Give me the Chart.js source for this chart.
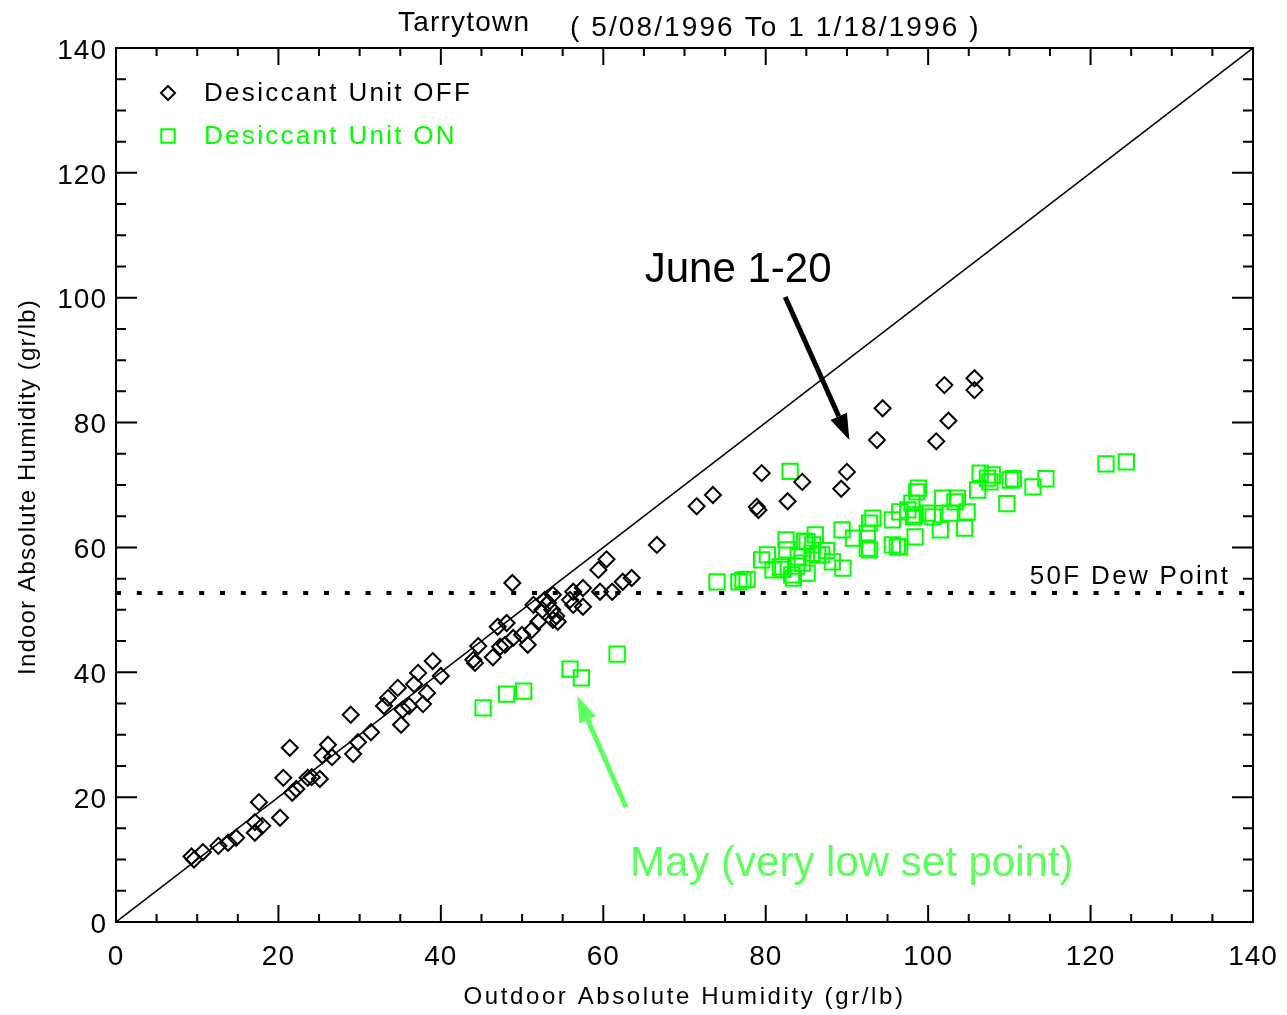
<!DOCTYPE html>
<html>
<head>
<meta charset="utf-8">
<script src="https://cdn.jsdelivr.net/npm/chart.js@4/dist/chart.umd.min.js"></script>
<style>
  html, body { margin: 0; padding: 0; background: #fff; }
  #wrap { width: 1287px; height: 1015px; }
</style>
</head>
<body>
<div id="wrap"><canvas id="humidityChart"></canvas></div>
<script>
// Outdoor vs indoor absolute humidity (gr/lb)
const offX = [9.3, 9.6, 10.7, 12.6, 13.8, 14.8, 17.1, 17.1, 17.6, 18.0, 20.2, 20.6, 21.4, 21.7, 22.2,
    23.6, 24.1, 25.1, 25.4, 26.1, 26.6, 28.9, 29.2, 29.8, 31.4, 33.0, 33.5, 34.7, 35.1, 35.3,
    36.1, 36.7, 37.2, 37.8, 38.3, 39.0, 40.0, 44.2, 44.0, 44.6, 46.4, 47.3, 47.9, 47.0, 48.1,
    48.8, 48.9, 50.0, 50.7, 51.2, 52.0, 51.4, 52.8, 53.2, 53.7, 53.8, 54.4, 53.8, 56.3, 56.3,
    57.5, 57.5, 55.9, 59.4, 60.4, 59.6, 61.1, 62.4, 63.5, 52.5, 54.2, 66.6, 71.5, 73.5, 79.5,
    78.9, 79.1, 82.7, 84.5, 90.0, 89.3, 93.7, 94.4, 101.0, 102.5, 102.0, 105.7, 105.7];
const offY = [10.5, 10.0, 11.2, 12.2, 12.7, 13.5, 16.0, 14.3, 19.2, 15.4, 16.7, 23.1, 27.9, 20.7, 21.3,
    23.1, 23.2, 22.9, 26.7, 28.4, 26.4, 33.2, 26.9, 28.8, 30.4, 34.6, 35.9, 37.5, 31.6, 34.0,
    34.6, 38.1, 39.9, 34.9, 36.7, 41.8, 39.4, 41.5, 42.0, 44.2, 42.4, 44.1, 44.4, 47.3, 47.9,
    54.3, 45.5, 46.0, 44.4, 46.8, 48.1, 50.8, 51.6, 51.1, 50.0, 48.4, 48.1, 52.4, 52.9, 50.8,
    53.5, 50.5, 51.6, 56.4, 58.1, 52.9, 52.9, 54.5, 55.1, 50.0, 49.0, 60.4, 66.6, 68.4, 71.9,
    66.5, 66.0, 67.4, 70.5, 72.1, 69.4, 77.2, 82.3, 77.0, 80.3, 86.0, 87.1, 85.2];

const onX = [45.2, 48.1, 50.2, 55.9, 57.3, 61.7,
    74.0, 76.7, 77.2, 77.7, 83.0, 80.2, 79.5, 80.9, 81.8, 82.5, 82.6, 82.1, 83.4, 83.2,
    84.0, 85.1, 86.1, 85.1, 85.7, 86.4, 86.9, 88.2, 89.5, 85.8, 89.4, 90.8, 92.5, 92.8,
    92.5, 92.8, 93.2, 95.6, 96.2, 96.5, 95.6, 96.5, 97.5, 98.2, 98.4, 98.6, 98.8, 98.0,
    98.4, 99.9, 100.6, 101.5, 101.8, 102.7, 103.6, 103.3, 104.5, 104.8, 106.4, 106.1, 107.3,
    107.9, 107.6, 110.1, 110.5, 109.7, 112.9, 114.5, 121.9, 124.4, 84.5, 83.8, 87.5, 84.8];
const onY = [34.3, 36.5, 37.0, 40.5, 39.1, 42.9,
    54.5, 54.5, 54.8, 54.9, 72.2, 58.8, 58.0, 56.4, 56.9, 61.2, 59.6, 56.5, 55.1, 55.6,
    58.5, 60.9, 62.0, 55.9, 59.1, 58.8, 58.8, 57.7, 56.7, 60.4, 62.8, 61.5, 59.9, 59.6,
    62.3, 63.9, 64.7, 60.4, 60.1, 60.1, 64.4, 65.7, 66.0, 64.9, 61.7, 68.9, 69.5, 67.1,
    65.2, 65.5, 64.9, 62.8, 67.9, 65.5, 67.9, 67.3, 63.1, 65.7, 71.9, 69.2, 71.1,
    71.6, 70.5, 70.8, 71.0, 67.0, 69.7, 71.0, 73.4, 73.7, 57.5, 57.0, 59.5, 61.0];

const dewPoint = 52.7;
const axisTicks = [0, 20, 40, 60, 80, 100, 120, 140];

const GREEN = '#00ff00';
const LIGHT_GREEN = '#5cff5c';
const FONT = '"Liberation Sans", Arial, sans-serif';

function toPoints(xs, ys) {
    return xs.map((x, i) => ({ x: x, y: ys[i] }));
}

// frame, inside ticks, legend, titles and notes
const decorations = {
    id: 'decorations',
    beforeDraw(chart) {
        chart.ctx.letterSpacing = '1px';
    },
    afterDraw(chart) {
        const ctx = chart.ctx;
        const a = chart.chartArea;
        const sx = chart.scales.x;
        const sy = chart.scales.y;
        ctx.save();
        ctx.strokeStyle = '#000';
        ctx.lineWidth = 2;
        ctx.strokeRect(a.left, a.top, a.right - a.left, a.bottom - a.top);

        ctx.beginPath();
        sx.ticks.forEach(t => {
            const p = sx.getPixelForValue(t.value);
            const len = t.value % 20 === 0 ? 17 : 8;
            ctx.moveTo(p, a.bottom); ctx.lineTo(p, a.bottom - len);
            ctx.moveTo(p, a.top); ctx.lineTo(p, a.top + len);
        });
        sy.ticks.forEach(t => {
            const p = sy.getPixelForValue(t.value);
            const len = t.value % 20 === 0 ? 21 : 10;
            ctx.moveTo(a.left, p); ctx.lineTo(a.left + len, p);
            ctx.moveTo(a.right, p); ctx.lineTo(a.right - len, p);
        });
        ctx.stroke();

        // legend
        ctx.lineWidth = 2;
        ctx.fillStyle = 'rgba(0,0,0,0)';
        Chart.helpers.drawPoint(ctx, { pointStyle: 'rectRot', radius: 7, rotation: 0, borderWidth: 2 }, 168, 93);
        ctx.strokeStyle = GREEN;
        Chart.helpers.drawPoint(ctx, { pointStyle: 'rect', radius: 9.5, rotation: 0, borderWidth: 2 }, 168, 136);
        ctx.textBaseline = 'middle';
        ctx.textAlign = 'left';
        ctx.font = '26px ' + FONT;
        ctx.letterSpacing = '2.3px';
        ctx.fillStyle = '#000';
        ctx.fillText('Desiccant Unit OFF', 204, 94);
        ctx.fillStyle = GREEN;
        ctx.fillText('Desiccant Unit ON', 204, 137);

        // dew point note
        ctx.fillStyle = '#000';
        ctx.textAlign = 'right';
        ctx.fillText('50F Dew Point', sx.getPixelForValue(137.2), sy.getPixelForValue(55.3));

        // title
        ctx.textAlign = 'left';
        ctx.font = '28px ' + FONT;
        ctx.letterSpacing = '1.2px';
        ctx.fillText('Tarrytown', 398, 23);
        ctx.letterSpacing = '2.1px';
        ctx.fillText('( 5/08/1996 To 1 1/18/1996 )', 570, 28);

        // axis titles
        ctx.font = '24px ' + FONT;
        ctx.textAlign = 'center';
        ctx.letterSpacing = '2.6px';
        ctx.fillText('Outdoor Absolute Humidity (gr/lb)', (a.left + a.right) / 2, 997);
        ctx.save();
        ctx.translate(28, 487);
        ctx.rotate(-Math.PI / 2);
        ctx.letterSpacing = '1.2px';
        ctx.fillText('Indoor Absolute Humidity (gr/lb)', 0, 0);
        ctx.restore();

        // notes with arrows
        ctx.letterSpacing = '0px';
        ctx.font = '42px ' + FONT;
        ctx.textAlign = 'left';
        ctx.fillStyle = '#000';
        ctx.fillText('June 1-20', sx.getPixelForValue(65.1), sy.getPixelForValue(104.3));
        ctx.fillStyle = LIGHT_GREEN;
        ctx.fillText('May (very low set point)', sx.getPixelForValue(63.3), sy.getPixelForValue(9.3));

        drawArrow(ctx, sx.getPixelForValue(82.4), sy.getPixelForValue(100.1),
            sx.getPixelForValue(90.3), sy.getPixelForValue(77.2), '#000');
        drawArrow(ctx, sx.getPixelForValue(62.8), sy.getPixelForValue(18.4),
            sx.getPixelForValue(56.8), sy.getPixelForValue(36.2), LIGHT_GREEN);
        ctx.restore();
    }
};

function drawArrow(ctx, x1, y1, x2, y2, color) {
    const ang = Math.atan2(y2 - y1, x2 - x1);
    const head = 26, half = 9;
    const bx = x2 - head * Math.cos(ang), by = y2 - head * Math.sin(ang);
    ctx.strokeStyle = color;
    ctx.fillStyle = color;
    ctx.lineWidth = 5;
    ctx.beginPath();
    ctx.moveTo(x1, y1);
    ctx.lineTo(bx, by);
    ctx.stroke();
    ctx.beginPath();
    ctx.moveTo(x2, y2);
    ctx.lineTo(bx + half * Math.sin(ang), by - half * Math.cos(ang));
    ctx.lineTo(bx - half * Math.sin(ang), by + half * Math.cos(ang));
    ctx.closePath();
    ctx.fill();
}

const tickFont = { family: FONT, size: 28 };

new Chart(document.getElementById('humidityChart'), {
    type: 'scatter',
    data: {
        datasets: [
            {
                type: 'line',
                data: [{ x: 0, y: 0 }, { x: 140, y: 140 }],
                borderColor: '#000',
                borderWidth: 1.5,
                pointRadius: 0,
            },
            {
                type: 'line',
                data: [{ x: 0, y: dewPoint }, { x: 140, y: dewPoint }],
                borderColor: '#000',
                borderWidth: 4,
                borderDash: [5, 15.8],
                pointRadius: 0,
            },
            {
                label: 'Desiccant Unit OFF',
                data: toPoints(offX, offY),
                pointStyle: 'rectRot',
                pointRadius: 8,
                pointBorderWidth: 2,
                borderColor: '#000',
                backgroundColor: 'transparent',
            },
            {
                label: 'Desiccant Unit ON',
                data: toPoints(onX, onY),
                pointStyle: 'rect',
                pointRadius: 10.8,
                pointBorderWidth: 2,
                borderColor: GREEN,
                backgroundColor: 'transparent',
            },
        ],
    },
    options: {
        responsive: true,
        maintainAspectRatio: false,
        animation: false,
        layout: { padding: { top: 48, right: 34, left: 0, bottom: 0 } },
        plugins: {
            legend: { display: false },
            tooltip: { enabled: false },
        },
        scales: {
            x: {
                type: 'linear',
                min: 0,
                max: 140,
                grid: { display: false, drawTicks: false },
                border: { display: false },
                afterFit: scale => {
                    scale.height = 93;
                    scale.paddingLeft = 0;
                    scale.paddingRight = 0;
                },
                ticks: {
                    stepSize: 5,
                    autoSkip: false,
                    maxRotation: 0,
                    padding: 18,
                    color: '#000',
                    font: tickFont,
                    callback: v => axisTicks.includes(v) ? String(v) : '',
                },
            },
            y: {
                type: 'linear',
                min: 0,
                max: 140,
                grid: { display: false, drawTicks: false },
                border: { display: false },
                afterFit: scale => {
                    scale.width = 116;
                    scale.paddingTop = 0;
                    scale.paddingBottom = 0;
                },
                ticks: {
                    stepSize: 5,
                    autoSkip: false,
                    padding: 9,
                    labelOffset: 3,
                    color: '#000',
                    font: tickFont,
                    callback: v => axisTicks.includes(v) ? String(v) : '',
                },
            },
        },
    },
    plugins: [decorations],
});
</script>
</body>
</html>
